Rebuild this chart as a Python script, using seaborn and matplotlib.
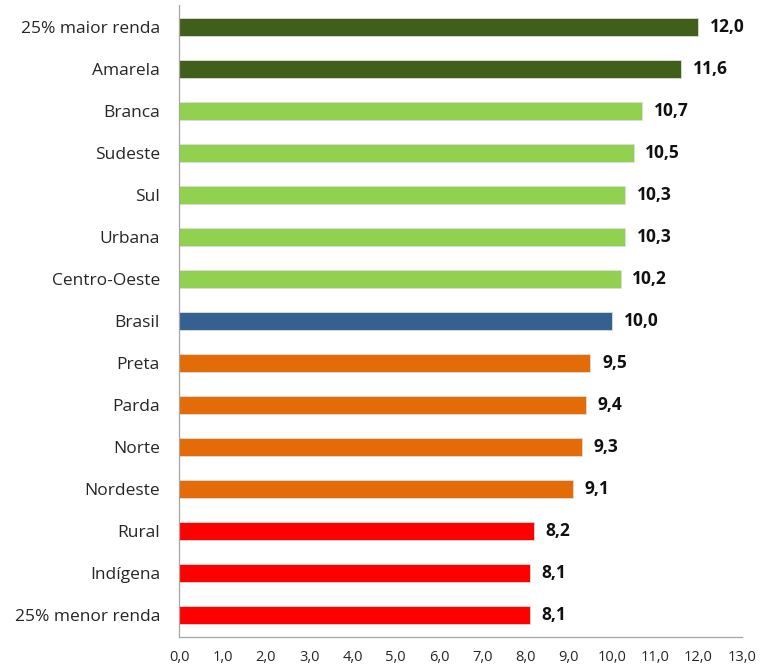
import matplotlib
matplotlib.use("Agg")
import matplotlib.pyplot as plt
import seaborn as sns
import pandas as pd

# dados
categorias = ["25% maior renda", "Amarela", "Branca", "Sudeste", "Sul", "Urbana",
              "Centro-Oeste", "Brasil", "Preta", "Parda", "Norte", "Nordeste",
              "Rural", "Indígena", "25% menor renda"]
valores = [12.0, 11.6, 10.7, 10.5, 10.3, 10.3, 10.2, 10.0, 9.5, 9.4, 9.3, 9.1, 8.2, 8.1, 8.1]
grupos = ["topo", "topo", "acima", "acima", "acima", "acima", "acima", "brasil",
          "abaixo", "abaixo", "abaixo", "abaixo", "base", "base", "base"]
xticks = [0, 1, 2, 3, 4, 5, 6, 7, 8, 9, 10, 11, 12, 13]
xticklabels = ["0,0", "1,0", "2,0", "3,0", "4,0", "5,0", "6,0", "7,0", "8,0",
               "9,0", "10,0", "11,0", "12,0", "13,0"]

cores_grupo = {"topo": "#3F5F1B", "acima": "#92D050", "brasil": "#366092",
               "abaixo": "#E36C09", "base": "#FF0000"}

df = pd.DataFrame({"categoria": categorias, "valor": valores, "grupo": grupos})

sns.set_style("white")
plt.rcParams["font.family"] = ["Open Sans", "DejaVu Sans"]

fig = plt.figure(figsize=(7.6, 6.65), dpi=100)
ax = fig.add_axes([0.236, 0.042, 0.740, 0.95])

sns.barplot(data=df, x="valor", y="categoria", hue="grupo", palette=cores_grupo,
            orient="h", width=0.43, dodge=False, legend=False, ax=ax,
            saturation=1, edgecolor="#dddddd", linewidth=0.6)

for i, v in enumerate(valores):
    ax.text(v + 0.27, i, f"{v:.1f}".replace(".", ","), va="center", ha="left",
            fontsize=12.5, fontweight="bold", color="#111111")

ax.set_xlim(0, 13)
ax.set_ylim(len(categorias) - 0.48, -0.52)
ax.set_xticks(xticks)
ax.set_xticklabels(xticklabels, fontsize=10.5)
ax.tick_params(axis="y", labelsize=12.5, length=0, pad=14)
ax.tick_params(axis="x", length=0, pad=9)
ax.set_xlabel("")
ax.set_ylabel("")

for s in ["top", "right"]:
    ax.spines[s].set_visible(False)
for s in ["left", "bottom"]:
    ax.spines[s].set_color("#a6a6a6")
    ax.spines[s].set_linewidth(0.9)

fig.savefig("out.png", dpi=100)
